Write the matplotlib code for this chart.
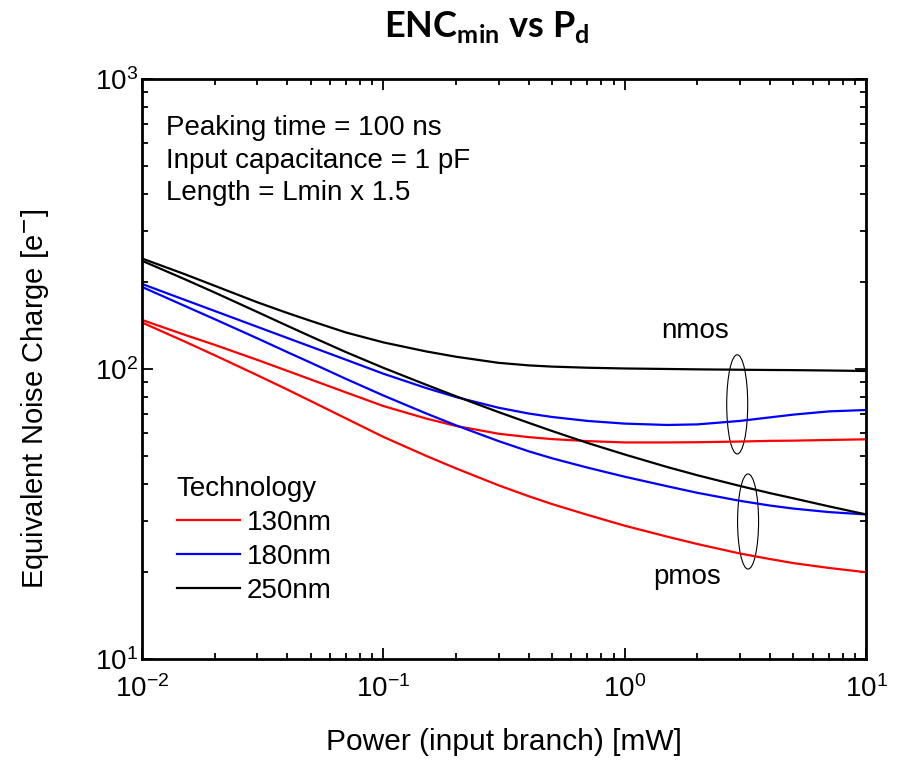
import matplotlib
matplotlib.use("Agg")
import matplotlib.pyplot as plt
from matplotlib.patches import Ellipse
from matplotlib.ticker import LogLocator, NullFormatter

plt.rcParams["font.family"] = ["Liberation Sans", "DejaVu Sans"]
plt.rcParams["axes.unicode_minus"] = False

# power in the input branch [mW]
power = [0.01, 0.015, 0.02, 0.03, 0.04, 0.05, 0.07, 0.1, 0.15, 0.2, 0.3,
         0.4, 0.5, 0.7, 1, 1.5, 2, 3, 4, 5, 7, 10]

# minimum ENC [e-] per technology, nmos and pmos input device
enc_nmos_130 = [147.6, 131.2, 121.1, 107.5, 98.5, 92.0, 83.0, 74.5, 67.5, 63.6, 59.8,
                58.2, 57.3, 56.4, 55.8, 55.8, 55.9, 56.2, 56.5, 56.6, 56.9, 57.2]
enc_nmos_180 = [196.4, 173.2, 158.5, 139.8, 127.9, 119.4, 107.6, 96.3, 86.0, 80.0, 73.5,
                70.2, 68.3, 66.2, 64.8, 64.1, 64.4, 66.2, 68.1, 69.6, 71.4, 72.2]
enc_nmos_250 = [240.4, 212.4, 193.6, 169.9, 156.0, 146.5, 133.6, 123.5, 115.0, 110.2, 105.0,
                102.9, 101.9, 101.0, 100.4, 100.0, 99.7, 99.4, 99.2, 99.1, 98.8, 98.4]
enc_pmos_130 = [144.6, 124.4, 111.5, 95.2, 84.9, 77.5, 67.5, 58.3, 50.2, 45.4, 39.7,
                36.4, 34.2, 31.4, 28.8, 26.4, 24.9, 23.1, 22.1, 21.4, 20.6, 19.9]
enc_pmos_180 = [191.8, 165.1, 148.5, 127.6, 114.3, 105.1, 92.4, 81.0, 70.3, 63.9, 56.4,
                52.0, 49.2, 45.7, 42.5, 39.4, 37.4, 35.1, 33.8, 33.0, 32.1, 31.5]
enc_pmos_250 = [236.1, 204.1, 183.5, 157.3, 140.9, 129.5, 114.3, 100.9, 88.3, 80.5, 71.0,
                65.2, 61.1, 55.6, 50.7, 45.9, 43.0, 39.5, 37.3, 35.8, 33.6, 31.5]

technologies = ["130nm", "180nm", "250nm"]
colors = ["#ff0000", "#0000ff", "#000000"]

fig = plt.figure(figsize=(9.05, 7.6), dpi=100)
ax = fig.add_axes([0.157, 0.133, 0.800, 0.763])

nmos = [enc_nmos_130, enc_nmos_180, enc_nmos_250]
pmos = [enc_pmos_130, enc_pmos_180, enc_pmos_250]
for tech, col, yn, yp in zip(technologies, colors, nmos, pmos):
    ax.plot(power, yn, color=col, lw=1.6, label=tech)
    ax.plot(power, yp, color=col, lw=1.6)

ax.set_xscale("log")
ax.set_yscale("log")
ax.set_xlim(1e-2, 1e1)
ax.set_ylim(1e1, 1e3)

ax.xaxis.set_minor_locator(LogLocator(base=10, subs=range(2, 10)))
ax.yaxis.set_minor_locator(LogLocator(base=10, subs=range(2, 10)))
ax.xaxis.set_minor_formatter(NullFormatter())
ax.yaxis.set_minor_formatter(NullFormatter())
ax.tick_params(which="both", direction="in", top=True, right=True, width=1.3)
ax.tick_params(which="major", length=8, labelsize=20)
ax.tick_params(axis="x", which="major", pad=12)
ax.tick_params(axis="y", which="major", pad=3)
ax.tick_params(which="minor", length=4.5)
for sp in ax.spines.values():
    sp.set_linewidth(2.0)

ax.set_xlabel("Power (input branch) [mW]", fontsize=21.5, va="center")
ax.xaxis.set_label_coords(0.5, -0.143)
ax.set_ylabel("Equivalent Noise Charge [e$^{-}$]", fontsize=21, va="center")
ax.yaxis.set_label_coords(-0.148, 0.449)

fig.text(0.538, 0.951, r"ENC$_{\mathdefault{min}}$ vs P$_{\mathdefault{d}}$",
         ha="center", va="baseline", fontsize=26, fontweight="bold",
         family=["Lato", "DejaVu Sans"])

ax.text(0.033, 0.938, "Peaking time = 100 ns\nInput capacitance = 1 pF\nLength = Lmin x 1.5",
        transform=ax.transAxes, ha="left", va="top", fontsize=20, linespacing=1.33)

# groups of curves for each input device type
ax.add_patch(Ellipse((0.822, 0.439), 0.029, 0.171, transform=ax.transAxes,
                     fill=False, lw=0.8, ec="black"))
ax.add_patch(Ellipse((0.837, 0.237), 0.029, 0.164, transform=ax.transAxes,
                     fill=False, lw=0.8, ec="black"))
ax.text(0.764, 0.566, "nmos", transform=ax.transAxes, ha="center", va="center", fontsize=20)
ax.text(0.753, 0.141, "pmos", transform=ax.transAxes, ha="center", va="center", fontsize=20)

leg = ax.legend(loc="lower left", bbox_to_anchor=(0.048, 0.095), frameon=False,
                title="Technology", title_fontsize=20, fontsize=20,
                handlelength=2.27, handletextpad=0.25, labelspacing=0.29,
                alignment="left", borderaxespad=0, borderpad=0)
for line in leg.get_lines():
    line.set_linewidth(1.6)

fig.savefig("out.png", dpi=100)
